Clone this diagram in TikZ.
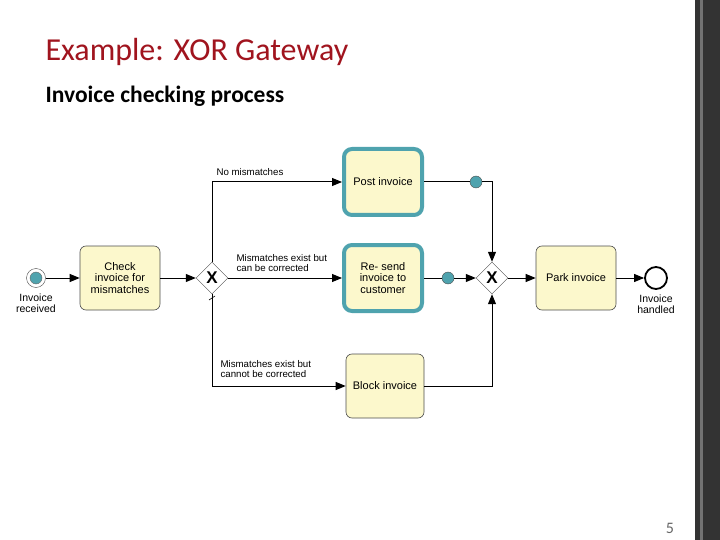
\documentclass[tikz,border=0pt]{standalone}
\usepackage{fontspec}
\setmainfont{Carlito}
\newfontfamily\diag{Liberation Sans}
\usetikzlibrary{shapes.geometric,arrows.meta}
\definecolor{teal1}{HTML}{4FA3AE}
\definecolor{task}{HTML}{FCF8CC}
\definecolor{titlered}{HTML}{A0141E}
\begin{document}
\begin{tikzpicture}[x=1pt,y=-1pt,
  task/.style={draw=black!70,fill=task,rounded corners=6pt,minimum width=80pt,minimum height=64pt,align=center,font=\diag\fontsize{11}{11.5}\selectfont,line width=0.6pt},
  ttask/.style={task,draw=teal1,line width=4pt,minimum width=78pt,minimum height=66pt,rounded corners=8pt},
  gw/.style={diamond,draw=black!70,fill=white,minimum width=32pt,minimum height=32pt,inner sep=0pt,font=\diag\bfseries\fontsize{17}{17}\selectfont},
  flow/.style={draw=black,line width=1pt,-{Triangle[length=10pt,width=8pt]}},
  lbl/.style={font=\diag\fontsize{9.7}{10}\selectfont,align=left},
  dot/.style={circle,draw=black!70,fill=teal1,minimum size=12pt,inner sep=0pt}]
\useasboundingbox (0,0) rectangle (720,540);
\fill[black!80] (695,0) rectangle (720,540);
\fill[black!55] (700,0) rectangle (703,540);
\node[anchor=west,text=titlered,font=\fontsize{32}{34}\selectfont] (title) at (42,52) {Example: XOR Gateway};
\node[anchor=west,font=\bfseries\fontsize{23.5}{25}\selectfont] (sub) at (42,96) {Invoice checking process};
\node[text=black!60,font=\fontsize{16}{16}\selectfont] (pg) at (670,528) {5};
\node[circle,draw=black!70,fill=white,minimum size=19pt,inner sep=0pt] (start) at (36,278) {};
\node[circle,fill=teal1,draw=black!60,minimum size=12pt,inner sep=0pt] (startin) at (36,278) {};
\node[lbl,align=center,anchor=north,font=\diag\fontsize{10.5}{11}\selectfont] (slbl) at (36,290) {Invoice\\received};
\node[task] (check) at (120,278) {Check\\invoice for\\mismatches};
\node[gw] (g1) at (212,278) {X};
\node[ttask] (post) at (383,182) {Post invoice};
\node[ttask] (resend) at (383,278) {Re- send\\invoice to\\customer};
\node[task,minimum width=78pt] (block) at (385,386) {Block invoice};
\node[gw] (g2) at (492,278) {X};
\node[task] (park) at (576,278) {Park invoice};
\node[circle,draw=black,line width=1.8pt,fill=white,minimum size=22pt,inner sep=0pt] (end) at (656,278) {};
\node[lbl,align=center,anchor=north,font=\diag\fontsize{10.5}{11}\selectfont] (elbl) at (656,291) {Invoice\\handled};
\node[dot] (d1) at (476,182) {};
\node[dot] (d2) at (448,278) {};
\draw[flow] (start) -- (check);
\draw[flow] (check) -- (g1);
\draw[flow] (g1.north) |- (post.west);
\draw[flow] (g1) -- (resend);
\draw[flow] (g1.south) |- (block.west);
\draw[line width=1pt] (post.east) -- (d1);
\draw[flow] (d1.east) -| (g2.north);
\draw[line width=1pt] (resend.east) -- (d2);
\draw[flow] (d2) -- (g2);
\draw[flow] (block.east) -| (g2.south);
\draw[flow] (g2) -- (park);
\draw[flow] (park) -- (end);
\draw[line width=0.6pt] (209,300) -- (215,296);
\node[lbl,anchor=south west] (l1) at (213,179) {No mismatches};
\node[lbl,anchor=south west] (l2) at (233,275) {Mismatches exist but\\can be corrected};
\node[lbl,anchor=south west] (l3) at (217,381) {Mismatches exist but\\cannot be corrected};
\end{tikzpicture}
\end{document}
